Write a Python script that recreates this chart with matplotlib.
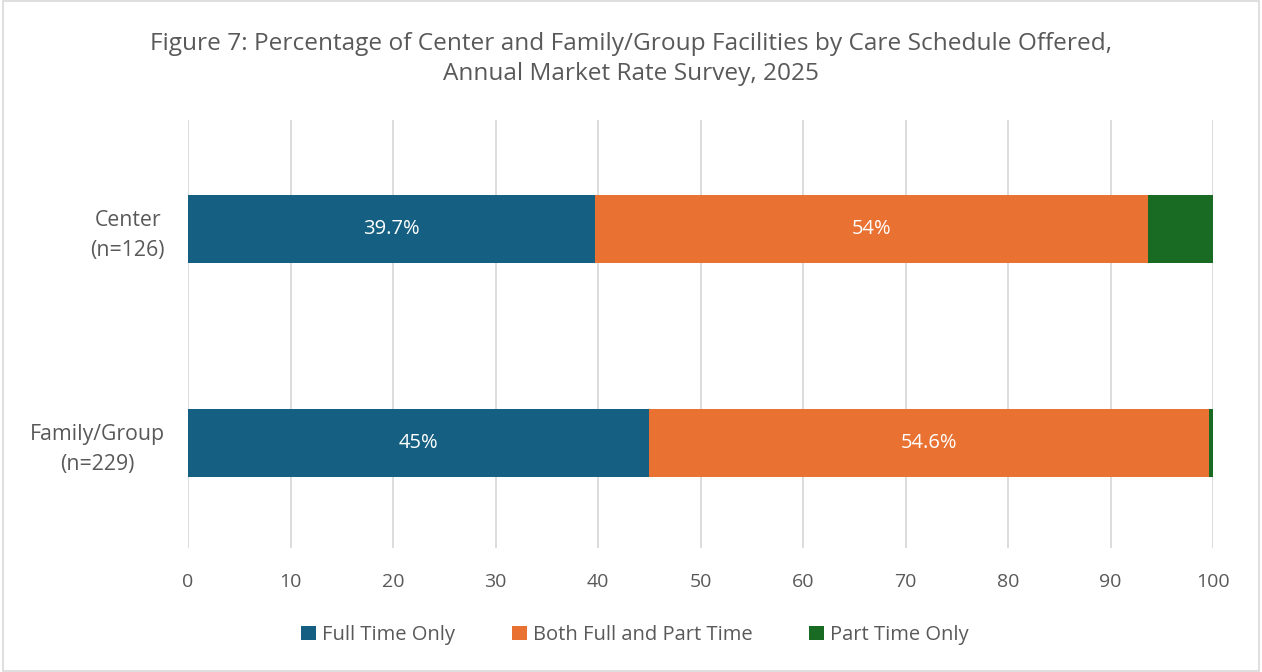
import matplotlib
matplotlib.use("Agg")
import matplotlib.pyplot as plt
from matplotlib.patches import Rectangle

plt.rcParams['font.family'] = ['Open Sans', 'DejaVu Sans']

categories = ["Center\n(n=126)", "Family/Group\n(n=229)"]
series_names = ["Full Time Only", "Both Full and Part Time", "Part Time Only"]
full_time = [39.7, 45.0]
both = [54.0, 54.6]
part_time = [6.3, 0.4]
labels_full = ["39.7%", "45%"]
labels_both = ["54%", "54.6%"]
colors = ["#156082", "#E97132", "#196B24"]
text_gray = "#595959"

fig = plt.figure(figsize=(12.62, 6.72), dpi=100)
ax = fig.add_axes([188/1262, 1-548/672, (1213-188)/1262, (548-120)/672])

y = [0, 1]
h = 0.316
left = [0, 0]
for vals, col, name in zip([full_time, both, part_time], colors, series_names):
    ax.barh(y, vals, left=left, height=h, color=col, label=name, zorder=3)
    left = [l + v for l, v in zip(left, vals)]

for i in range(2):
    ax.text(full_time[i]/2, y[i], labels_full[i], ha='center', va='center', color='white', fontsize=14.5, zorder=4)
    ax.text(full_time[i] + both[i]/2, y[i], labels_both[i], ha='center', va='center', color='white', fontsize=14.5, zorder=4)

ax.set_xlim(0, 100)
ax.set_ylim(1.491, -0.509)
ax.set_xticks(range(0, 101, 10))
ax.set_yticks(y)
ax.set_yticklabels(categories, fontsize=15.3, color=text_gray)
ax.tick_params(axis='x', labelsize=14, labelcolor=text_gray, length=0, pad=18)
ax.tick_params(axis='y', length=0, pad=16.5)
for lab in ax.get_yticklabels():
    lab.set_horizontalalignment('right')
    lab.set_multialignment('center')
    lab.set_linespacing(1.55)
ax.grid(axis='x', color='#D9D9D9', linewidth=1.3, zorder=0)
for s in ax.spines.values():
    s.set_visible(False)

fig.text(0.5, 1-59/672, "Figure 7: Percentage of Center and Family/Group Facilities by Care Schedule Offered,\nAnnual Market Rate Survey, 2025",
         ha='center', va='center', fontsize=17.55, color=text_gray, linespacing=1.3)

ax.legend(loc='center', ncol=3, frameon=False, fontsize=14.5, labelcolor=text_gray,
          handlelength=0.75, handleheight=0.75, handletextpad=0.3, columnspacing=2.8)
leg = ax.get_legend()
leg.set_bbox_to_anchor((0.5 + 4/1262, 1-635/672), transform=fig.transFigure)

fig.patches.append(Rectangle((0.002, 0.002), 0.996, 0.996, transform=fig.transFigure,
                             fill=False, edgecolor='#D9D9D9', linewidth=1.2))

fig.savefig("out.png", dpi=100, facecolor='white')
